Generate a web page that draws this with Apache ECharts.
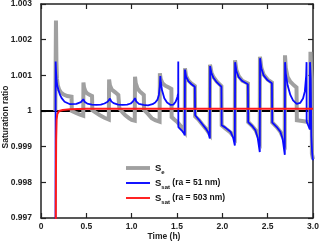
<!DOCTYPE html>
<html><head><meta charset="utf-8">
<script src="https://cdn.jsdelivr.net/npm/echarts@6/dist/echarts.min.js"></script>
<style>html,body{margin:0;padding:0;background:#fff}#c{width:320px;height:243px}</style>
</head><body><div id="c"></div>
<script>
const xTickLabels = ['0', '0.5', '1.0', '1.5', '2.0', '2.5', '3.0'];
const yTickLabels = ['0.997', '0.998', '0.999', '1', '1.001', '1.002', '1.003'];
const seriesNames = ['S_e', 'S_sat (ra = 51 nm)', 'S_sat (ra = 503 nm)'];

// Se (gray): [time (h), saturation ratio]
const seData = [
  [0.158, 1.0000], [0.165, 1.00254], [0.170, 1.0014], [0.176, 1.0009], [0.185, 1.00072], [0.20, 1.0006], [0.22, 1.00052], [0.25, 1.00046], [0.29, 1.00042], [0.337, 1.0004], [0.340, 1.0000], [0.38, 0.99995], [0.43, 0.9999], [0.466, 0.99987],
  [0.468, 1.0008], [0.475, 1.00066], [0.49, 1.00055], [0.51, 1.00049], [0.54, 1.00045], [0.563, 1.00042], [0.566, 1.00002], [0.60, 0.99996], [0.65, 0.99988], [0.70, 0.99981], [0.748, 0.99976],
  [0.751, 1.00088], [0.76, 1.00072], [0.78, 1.0006], [0.816, 1.00053], [0.853, 1.00045], [0.864, 1.00008], [0.90, 0.99996], [0.93, 0.99988], [0.97, 0.9998], [1.0, 0.99975], [1.034, 0.99973],
  [1.037, 1.00096], [1.045, 1.00078], [1.065, 1.00063], [1.09, 1.00055], [1.11, 1.0005], [1.134, 1.00045], [1.137, 1.00003], [1.18, 0.99992], [1.221, 0.9998], [1.26, 0.99974], [1.308, 0.9997],
  [1.311, 1.00106], [1.32, 1.0009], [1.34, 1.00078], [1.37, 1.00071], [1.40, 1.00067], [1.438, 1.00062], [1.441, 0.99983], [1.47, 0.99976], [1.50, 0.9997], [1.55, 0.99955], [1.585, 0.99942],
  [1.588, 1.0012], [1.60, 1.00098], [1.625, 1.00086], [1.66, 1.00077], [1.697, 1.0007], [1.700, 0.99985], [1.74, 0.99975], [1.78, 0.99962], [1.82, 0.9995], [1.861, 0.99935],
  [1.864, 1.0013], [1.88, 1.00108], [1.90, 1.00096], [1.94, 1.00082], [1.99, 1.0007], [1.993, 0.9996], [2.04, 0.9995], [2.09, 0.9994], [2.137, 0.99925],
  [2.14, 1.00142], [2.155, 1.00115], [2.18, 1.00098], [2.22, 1.00085], [2.282, 1.00077], [2.285, 0.99969], [2.33, 0.99958], [2.37, 0.99945], [2.412, 0.9992],
  [2.415, 1.00152], [2.43, 1.00122], [2.455, 1.00102], [2.50, 1.00088], [2.547, 1.0008], [2.55, 0.99968], [2.60, 0.99955], [2.64, 0.99942], [2.688, 0.99915],
  [2.691, 1.00156], [2.70, 1.0012], [2.72, 1.00095], [2.75, 1.00082], [2.79, 1.00072], [2.818, 1.00066], [2.822, 0.99974], [2.88, 0.99972], [2.93, 0.9997], [2.969, 0.99968],
  [2.972, 1.00166], [2.978, 1.0012], [2.985, 1.0009], [2.988, 0.9988], [3.0, 0.99865]
];

// Ssat, ra = 51 nm (blue)
const sat51Data = [
  [0.159, 0.995], [0.1615, 1.00139], [0.166, 1.0011], [0.172, 1.00085], [0.18, 1.0007], [0.191, 1.0006], [0.21, 1.00045], [0.228, 1.00036], [0.26, 1.00026], [0.32, 1.00019], [0.39, 1.0002], [0.44, 1.00025], [0.467, 1.00033],
  [0.48, 1.00026], [0.51, 1.00021], [0.56, 1.00018], [0.61, 1.00017], [0.66, 1.00018], [0.70, 1.00021], [0.735, 1.00026], [0.761, 1.00035],
  [0.775, 1.00027], [0.80, 1.00022], [0.85, 1.00018], [0.90, 1.00017], [0.95, 1.00018], [0.99, 1.00021], [1.015, 1.00027], [1.037, 1.00036],
  [1.05, 1.00027], [1.08, 1.0002], [1.13, 1.00017], [1.18, 1.00016], [1.23, 1.00019], [1.26, 1.00024], [1.285, 1.00032], [1.30, 1.00045], [1.31, 1.00068], [1.316, 1.00098],
  [1.322, 1.0008], [1.335, 1.00058], [1.36, 1.00036], [1.39, 1.00024], [1.43, 1.00017], [1.46, 1.00018], [1.485, 1.00026], [1.505, 1.0004], [1.513, 1.0005], [1.514, 1.00139], [1.515, 0.99955], [1.55, 0.99946], [1.575, 0.99938], [1.586, 0.99932],
  [1.588, 1.00116], [1.60, 1.00096], [1.625, 1.00084], [1.66, 1.00075], [1.697, 1.00068], [1.700, 0.99988], [1.74, 0.99976], [1.78, 0.99963], [1.82, 0.9995], [1.845, 0.9994], [1.862, 0.99923],
  [1.865, 1.00126], [1.88, 1.00106], [1.90, 1.00094], [1.94, 1.0008], [1.99, 1.00068], [1.993, 0.9996], [2.04, 0.99952], [2.09, 0.99942], [2.12, 0.99925], [2.138, 0.99903],
  [2.141, 1.00137], [2.155, 1.00112], [2.18, 1.00095], [2.22, 1.00084], [2.282, 1.00075], [2.285, 0.99969], [2.33, 0.99958], [2.365, 0.99946], [2.39, 0.99925], [2.413, 0.99885],
  [2.416, 1.00148], [2.43, 1.0012], [2.455, 1.001], [2.50, 1.00086], [2.547, 1.00078], [2.55, 0.99968], [2.60, 0.99955], [2.64, 0.99942], [2.665, 0.99922], [2.689, 0.99877],
  [2.692, 1.00137], [2.70, 1.00105], [2.72, 1.00072], [2.75, 1.00045], [2.78, 1.0003], [2.82, 1.0002], [2.86, 1.00023], [2.89, 1.00035], [2.91, 1.00055], [2.925, 1.001], [2.929, 1.00137], [2.930, 0.9997], [2.95, 0.99958], [2.965, 0.99948], [2.967, 1.00137], [2.975, 1.0009], [2.982, 0.9993], [2.99, 0.99885], [2.998, 0.99862]
];

// Ssat, ra = 503 nm (red)
const sat503Data = [
  [0.162, 0.996], [0.1645, 0.998], [0.167, 0.9992], [0.172, 0.99975], [0.18, 0.99992], [0.20, 1.0], [0.24, 1.00003], [0.32, 1.00005], [0.5, 1.00006], [3.0, 1.00006]
];

// reference line S = 1
const unityData = [[0, 1], [3, 1]];

const FONT = 'Liberation Sans';
const chart = echarts.init(document.getElementById('c'), null, {renderer: 'canvas'});

const axisCommon = {
  axisLine: {show: true, onZero: false, lineStyle: {color: '#222', width: 1.5}},
  axisTick: {show: true, inside: true, length: 5, lineStyle: {color: '#222', width: 1.2}},
  splitLine: {show: false}
};

chart.setOption({
  animation: false,
  backgroundColor: '#fff',
  grid: {left: 41, right: 7, top: 4, bottom: 25, outerBoundsMode: 'none'},
  xAxis: [
    Object.assign({
      type: 'value', min: 0, max: 3, interval: 0.5, position: 'bottom',
      name: 'Time (h)', nameLocation: 'middle', nameGap: 14, nameMoveOverlap: false,
      nameTextStyle: {fontFamily: FONT, fontWeight: 'bold', fontSize: 8.5, color: '#222', padding: [0, 26, 0, 0]},
      axisLabel: {margin: 4, fontFamily: FONT, fontWeight: 'bold', fontSize: 8.5, color: '#222',
        formatter: (v, i) => xTickLabels[i]}
    }, axisCommon),
    Object.assign({
      type: 'value', min: 0, max: 3, interval: 0.5, position: 'top',
      axisLabel: {show: false}
    }, axisCommon)
  ],
  yAxis: [
    Object.assign({
      type: 'value', min: 0.997, max: 1.003, interval: 0.001, position: 'left',
      name: 'Saturation ratio', nameLocation: 'middle', nameGap: 31, nameMoveOverlap: false,
      nameTextStyle: {fontFamily: FONT, fontWeight: 'bold', fontSize: 8.5, color: '#222', padding: [0, 12, 0, 0]},
      axisLabel: {margin: 9, fontFamily: FONT, fontWeight: 'bold', fontSize: 8.5, color: '#222',
        formatter: (v, i) => yTickLabels[i]}
    }, axisCommon),
    Object.assign({
      type: 'value', min: 0.997, max: 1.003, interval: 0.001, position: 'right',
      axisLabel: {show: false}
    }, axisCommon)
  ],
  legend: {
    orient: 'vertical', left: 126, top: 163, padding: 0, itemWidth: 24, itemHeight: 10, itemGap: 3,
    symbolKeepAspect: true,
    data: [
      {name: seriesNames[0], icon: 'path://M0,0L25,0L25,4L0,4Z'},
      {name: seriesNames[1], icon: 'path://M0,0L25,0L25,2L0,2Z'},
      {name: seriesNames[2], icon: 'path://M0,0L25,0L25,2L0,2Z'}
    ],
    formatter: function (name) {
      if (name === seriesNames[0]) return '{m|S}{s|e}';
      if (name === seriesNames[1]) return '{m|S}{s|sat}{n| (ra = 51 nm)}';
      return '{m|S}{s|sat}{n| (ra = 503 nm)}';
    },
    textStyle: {
      fontFamily: FONT, fontWeight: 'bold', color: '#111',
      rich: {
        m: {fontFamily: FONT, fontWeight: 'bold', fontSize: 9.5, lineHeight: 14, color: '#111'},
        s: {fontFamily: FONT, fontWeight: 'bold', fontSize: 6, lineHeight: 8, verticalAlign: 'bottom', color: '#111'},
        n: {fontFamily: FONT, fontWeight: 'bold', fontSize: 8.5, lineHeight: 14, color: '#111'}
      }
    }
  },
  series: [
    {type: 'line', name: 'unity', data: unityData, symbol: 'none', z: 1,
      lineStyle: {color: '#000', width: 2}, silent: true},
    {type: 'line', name: seriesNames[0], data: seData, symbol: 'none', z: 2, clip: true,
      itemStyle: {color: '#a0a0a0'}, lineStyle: {color: '#a0a0a0', width: 4, join: 'miter'}},
    {type: 'line', name: seriesNames[1], data: sat51Data, symbol: 'none', z: 3, clip: true,
      itemStyle: {color: '#0a0aff'}, lineStyle: {color: '#0a0aff', width: 1.8}},
    {type: 'line', name: seriesNames[2], data: sat503Data, symbol: 'none', z: 4, clip: true,
      itemStyle: {color: '#ff1a1a'}, lineStyle: {color: '#ff1a1a', width: 2}}
  ]
});
</script></body></html>
